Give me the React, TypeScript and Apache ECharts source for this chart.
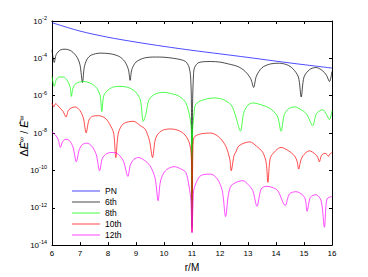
import React, { useEffect, useRef } from "react";
import * as echarts from "echarts";

// [r/M, log10 of ΔĖ/Ė]
const pnData: number[][] = [
  [6.0, -2.09], [7.0, -2.54], [8.0, -2.87], [9.0, -3.13], [10.0, -3.36], [11.0, -3.57],
  [12.0, -3.76], [13.0, -3.95], [14.0, -4.15], [15.0, -4.34], [16.0, -4.52],
];

const sixthData: number[][] = [
  [6.0, -3.55], [6.08, -4.22], [6.15, -3.8], [6.3, -3.55], [6.47, -3.51], [6.7, -3.62],
  [6.9, -3.95], [7.0, -4.35], [7.09, -5.29], [7.15, -4.5], [7.25, -4.05], [7.4, -3.83],
  [7.72, -3.72], [8.1, -3.76], [8.4, -3.9], [8.6, -4.17], [8.73, -4.61], [8.79, -5.18],
  [8.85, -4.6], [9.0, -4.2], [9.3, -3.98], [9.7, -3.93], [10.0, -3.94], [10.35, -4.0],
  [10.6, -4.07], [10.77, -4.17], [10.89, -4.45], [10.95, -5.0], [10.98, -6.5], [11.0, -13.0],
  [11.02, -6.5], [11.05, -5.0], [11.09, -4.5], [11.25, -4.22], [11.67, -4.17], [12.0, -4.2],
  [12.3, -4.3], [12.64, -4.44], [12.9, -4.7], [13.1, -5.1], [13.2, -5.56], [13.3, -4.95],
  [13.5, -4.5], [13.8, -4.3], [14.12, -4.26], [14.4, -4.35], [14.6, -4.55], [14.8, -5.0],
  [14.9, -6.07], [15.0, -5.0], [15.2, -4.6], [15.43, -4.49], [15.65, -4.65], [15.8, -4.9],
  [15.91, -5.24], [16.0, -4.7],
];

const eighthData: number[][] = [
  [6.0, -4.97], [6.08, -5.5], [6.15, -5.15], [6.25, -5.0], [6.41, -5.0], [6.55, -5.2],
  [6.65, -5.55], [6.69, -6.04], [6.75, -5.6], [6.85, -5.35], [7.13, -5.24], [7.4, -5.35],
  [7.6, -5.6], [7.72, -6.0], [7.78, -6.84], [7.85, -6.0], [8.0, -5.7], [8.2, -5.53],
  [8.43, -5.5], [8.7, -5.55], [8.95, -5.75], [9.15, -6.2], [9.26, -7.37], [9.35, -7.0],
  [9.47, -6.2], [9.7, -5.9], [10.0, -5.82], [10.2, -5.87], [10.5, -6.0], [10.75, -6.3],
  [10.83, -6.57], [10.93, -7.2], [10.98, -8.0], [11.0, -13.1], [11.02, -8.0], [11.07, -7.0],
  [11.13, -6.48], [11.35, -6.25], [11.78, -6.12], [12.1, -6.2], [12.4, -6.5], [12.56, -7.1],
  [12.73, -7.9], [12.85, -6.9], [13.0, -6.5], [13.17, -6.39], [13.5, -6.5], [13.8, -6.7],
  [14.05, -7.1], [14.18, -7.9], [14.3, -7.0], [14.45, -6.7], [14.66, -6.6], [14.9, -6.75],
  [15.1, -7.0], [15.31, -7.6], [15.45, -6.95], [15.67, -6.75], [15.8, -7.0], [15.91, -7.28],
  [16.0, -6.8],
];

const tenthData: number[][] = [
  [6.0, -6.39], [6.06, -6.6], [6.13, -6.43], [6.25, -6.6], [6.4, -6.85], [6.5, -7.14],
  [6.6, -6.75], [6.83, -6.6], [7.0, -6.8], [7.12, -7.2], [7.22, -7.99], [7.32, -7.3],
  [7.45, -7.1], [7.66, -7.07], [7.9, -7.2], [8.05, -7.5], [8.2, -8.0], [8.28, -9.31],
  [8.37, -8.0], [8.55, -7.5], [8.91, -7.37], [9.15, -7.6], [9.33, -7.8], [9.48, -8.4],
  [9.59, -9.31], [9.68, -8.4], [9.76, -8.1], [9.95, -7.85], [10.24, -7.78], [10.5, -7.85],
  [10.75, -8.1], [10.92, -8.6], [10.98, -9.5], [11.0, -13.3], [11.03, -9.0], [11.07, -8.24],
  [11.3, -8.05], [11.67, -8.0], [11.95, -8.2], [12.2, -8.68], [12.35, -9.41], [12.4, -10.02],
  [12.5, -9.2], [12.56, -9.04], [12.68, -8.68], [13.06, -8.47], [13.3, -8.7], [13.53, -9.04],
  [13.65, -9.6], [13.71, -10.64], [13.77, -9.6], [13.83, -9.22], [14.18, -8.77], [14.45, -8.95],
  [14.66, -9.22], [14.75, -9.5], [14.81, -9.93], [14.88, -9.5], [14.96, -9.22], [15.19, -8.95],
  [15.42, -9.15], [15.49, -9.3], [15.55, -9.54], [15.61, -9.25], [15.67, -9.13], [15.75, -9.08],
  [15.82, -9.15], [15.87, -9.25], [15.92, -9.12], [16.0, -9.05],
];

const twelfthData: number[][] = [
  [6.0, -7.95], [6.12, -8.1], [6.22, -8.35], [6.3, -8.77], [6.38, -8.45], [6.5, -8.33],
  [6.62, -8.4], [6.75, -8.75], [6.87, -9.54], [6.97, -8.9], [7.08, -8.62], [7.25, -8.54],
  [7.42, -8.7], [7.58, -9.15], [7.7, -10.02], [7.8, -9.35], [7.95, -9.1], [8.14, -9.04],
  [8.35, -9.12], [8.55, -9.5], [8.71, -10.32], [8.8, -9.7], [8.93, -9.4], [9.09, -9.31],
  [9.29, -9.45], [9.5, -9.75], [9.68, -10.4], [9.79, -11.62], [9.86, -10.7], [9.94, -10.28],
  [10.1, -9.95], [10.36, -9.8], [10.6, -9.92], [10.78, -10.11], [10.89, -10.82], [10.96, -11.6],
  [11.0, -13.35], [11.04, -11.6], [11.07, -11.0], [11.31, -10.28], [11.67, -10.2], [11.9, -10.45],
  [12.08, -11.08], [12.2, -12.47], [12.3, -11.3], [12.4, -10.82], [12.64, -10.6], [12.82, -10.55],
  [13.0, -10.75], [13.17, -11.08], [13.32, -11.92], [13.47, -11.0], [13.65, -10.85], [13.85, -10.9],
  [14.06, -11.08], [14.33, -11.88], [14.48, -11.26], [14.72, -11.14], [15.02, -11.44], [15.11, -12.19],
  [15.23, -11.44], [15.43, -11.3], [15.61, -11.62], [15.73, -13.04], [15.82, -11.53], [16.0, -11.4],
];

const seriesNames = ["PN", "6th", "8th", "10th", "12th"];
const seriesColors = ["#0000ff", "#000000", "#00ff00", "#ff0000", "#ff00ff"];
const xTicks = [6, 7, 8, 9, 10, 11, 12, 13, 14, 15, 16];

const FONT = "Liberation Sans, Arial, sans-serif";

export default function App() {
  const ref = useRef<HTMLDivElement>(null);
  useEffect(() => {
    if (!ref.current) return;
    const chart = echarts.init(ref.current, undefined, { renderer: "svg" });
    const all = [pnData, sixthData, eighthData, tenthData, twelfthData];
    const yLabel = (v: number) => {
      const e = Math.round(Math.log10(v));
      return `{b|10}{s|${e}}`;
    };
    const common = {
      axisLine: { lineStyle: { color: "#000", width: 1 } },
      splitLine: { show: false },
    };
    chart.setOption({
      animation: false,
      grid: { left: 52, top: 21, right: 36, bottom: 31 },
      xAxis: [
        {
          ...common,
          type: "value",
          min: xTicks[0],
          max: xTicks[xTicks.length - 1],
          interval: 1,
          position: "bottom",
          axisTick: { inside: true, length: 3, lineStyle: { color: "#000" } },
          axisLabel: { color: "#000", fontSize: 8, fontFamily: FONT, margin: 4 },
          name: "r/M",
          nameLocation: "middle",
          nameGap: 12,
          nameTextStyle: { color: "#000", fontSize: 10, fontFamily: FONT },
        },
        {
          ...common,
          type: "value",
          min: xTicks[0],
          max: xTicks[xTicks.length - 1],
          interval: 1,
          position: "top",
          axisTick: { inside: true, length: 3, lineStyle: { color: "#000" } },
          axisLabel: { show: false },
        },
      ],
      yAxis: [
        {
          ...common,
          type: "log",
          logBase: 10,
          min: 1e-14,
          max: 1e-2,
          interval: 2,
          position: "left",
          axisTick: { inside: true, length: 3, lineStyle: { color: "#000" } },
          minorTick: { show: false },
          axisLabel: {
            margin: 5,
            formatter: yLabel,
            rich: {
              b: { fontSize: 8, fontFamily: FONT, color: "#000" },
              s: { fontSize: 5.5, fontFamily: FONT, color: "#000", padding: [0, 0, 6, 0] },
            },
          },
        },
        {
          ...common,
          type: "log",
          logBase: 10,
          min: 1e-14,
          max: 1e-2,
          interval: 2,
          position: "right",
          axisTick: { inside: true, length: 3, lineStyle: { color: "#000" } },
          axisLabel: { show: false },
        },
      ],
      legend: {
        orient: "vertical",
        left: 67,
        top: 181.5,
        icon: "rect",
        itemWidth: 28,
        itemHeight: 1.2,
        itemGap: 2,
        data: seriesNames,
        textStyle: { fontSize: 8.5, fontFamily: FONT, color: "#000", lineHeight: 9 },
      },
      graphic: [
        {
          type: "text",
          x: 24,
          y: 136,
          rotation: Math.PI / 2,
          style: {
            text: "{d|Δ}{e|Ė}{s|∞}{d| / }{e|Ė}{s|∞}",
            align: "center",
            verticalAlign: "middle",
            rich: {
              d: { fontSize: 11, fontFamily: FONT, fill: "#000" },
              e: { fontSize: 11, fontFamily: FONT, fontStyle: "italic", fill: "#000" },
              s: { fontSize: 7, fontFamily: FONT, fill: "#000", padding: [0, 0, 6, 0] },
            },
          },
        },
      ],
      series: all.map((d, i) => ({
        name: seriesNames[i],
        type: "line",
        xAxisIndex: 0,
        yAxisIndex: 0,
        symbol: "none",
        smooth: 0.3,
        data: d.map(([r, e]) => [r, Math.pow(10, e)]),
        lineStyle: { color: seriesColors[i], width: 0.7 },
        itemStyle: { color: seriesColors[i], opacity: 0.6 },
      })),
    });
    return () => chart.dispose();
  }, []);
  return (
    <div
      ref={ref}
      style={{ position: "absolute", left: 0, top: 0, width: 368, height: 277 }}
    />
  );
}
